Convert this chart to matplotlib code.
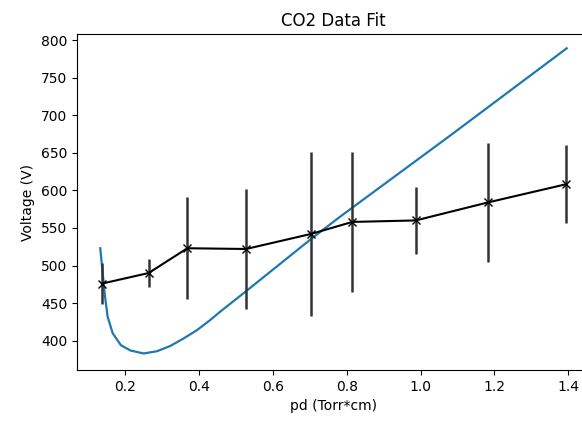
import matplotlib
matplotlib.use("Agg")
import matplotlib.pyplot as plt

# Measured data (pd in Torr*cm, voltage in V, error in V)
pd_data = [0.137, 0.263, 0.368, 0.527, 0.703, 0.815, 0.987, 1.183, 1.393]
v_data = [476, 490, 523, 522, 542, 558, 560, 584, 608]
v_err = [27, 19, 68, 80, 109, 93, 44, 79, 52]

# Fit curve, points
pd_fit = [0.132, 0.1386, 0.145, 0.152, 0.1656, 0.188, 0.2135, 0.2496, 0.2858,
          0.3218, 0.358, 0.394, 0.430, 0.457, 0.525, 0.705, 0.782, 1.075, 1.396]
v_fit = [523, 490, 458.5, 432, 410, 394, 387, 383, 386,
         393, 403, 414, 427.5, 438.6, 465, 536, 565, 671, 789]

fig = plt.figure(figsize=(5.82, 4.22), dpi=100)
ax = fig.add_axes([0.1323, 0.1232, 0.8814, 0.7962])

ax.plot(pd_fit, v_fit, color="#1f77b4", linewidth=1.6)
ax.errorbar(pd_data, v_data, yerr=v_err, fmt="x-", color="k",
            ecolor="#333333", elinewidth=1.8, markersize=6, linewidth=1.5)

ax.set_xlim(0.069, 1.459)
ax.set_ylim(361, 808)
ax.set_xticks([0.2, 0.4, 0.6, 0.8, 1.0, 1.2, 1.4])
ax.set_yticks([400, 450, 500, 550, 600, 650, 700, 750, 800])
ax.set_title("CO2 Data Fit")
ax.set_xlabel("pd (Torr*cm)")
ax.set_ylabel("Voltage (V)")

fig.savefig("out.png", dpi=100)
